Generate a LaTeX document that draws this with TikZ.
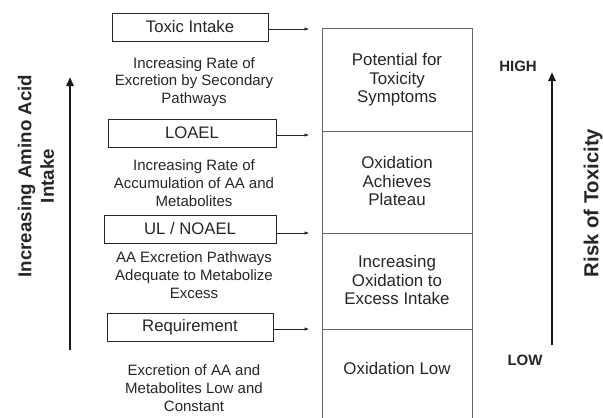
\documentclass[tikz,border=0pt]{standalone}
\usepackage{fontspec}
\setmainfont{Liberation Sans}
\usetikzlibrary{arrows.meta}
\begin{document}
\begin{tikzpicture}[x=1pt,y=-1pt,
  lbox/.style={draw=black!85,line width=0.7pt,minimum height=28pt,inner sep=0pt,font=\fontsize{16.7}{19}\selectfont,text=black!85},
  desc/.style={align=center,inner sep=0pt,font=\fontsize{15}{17.7}\selectfont,text=black!85},
  cell/.style={align=center,inner sep=0pt,font=\fontsize{16.9}{18.5}\selectfont,text=black!85},
  ptr/.style={line width=0.6pt,draw=black!85,-{Latex[length=4.5pt,width=3.5pt]}},
  big/.style={line width=2.2pt,draw=black!90,-{Triangle[length=9pt,width=7pt]}},
  axis/.style={font=\bfseries\fontsize{18.7}{22.5}\selectfont,align=center,text=black!85,inner sep=0pt},
  hl/.style={font=\bfseries\fontsize{15}{17}\selectfont,text=black!85,inner sep=0pt},
  colline/.style={line width=0.7pt,draw=black!60}]
\useasboundingbox (0,0) rectangle (603,418);
% column
\draw[colline] (322,418) -- (322,28) -- (472,28) -- (472,418);
\draw[colline] (322,131) -- (472,131);
\draw[colline] (322,233) -- (472,233);
\draw[colline] (322,329) -- (472,329);
\node[cell] (c1) at (397,80) {Potential for\\Toxicity\\Symptoms};
\node[cell] (c2) at (397,181) {Oxidation\\Achieves\\Plateau};
\node[cell] (c3) at (397,280) {Increasing\\Oxidation to\\Excess Intake};
\node[cell] (c4) at (397,368) {Oxidation Low};
% boxes
\node[lbox,minimum width=156pt] (b1) at (190,27) {Toxic Intake};
\node[lbox,minimum width=168pt] (b2) at (192,133) {LOAEL};
\node[lbox,minimum width=172pt] (b3) at (190,229) {UL / NOAEL};
\node[lbox,minimum width=166pt] (b4) at (190,327) {Requirement};
\coordinate (t1) at (309,29);
\coordinate (t2) at (309,135);
\coordinate (t3) at (309,233);
\coordinate (t4) at (309,329);
\draw[ptr] (b1.east |- t1) -- (t1);
\draw[ptr] (b2.east |- t2) -- (t2);
\draw[ptr] (b3.east |- t3) -- (t3);
\draw[ptr] (b4.east |- t4) -- (t4);
% descriptions
\node[desc] (d1) at (194,82) {Increasing Rate of\\Excretion by Secondary\\Pathways};
\node[desc] (d2) at (194,183) {Increasing Rate of\\Accumulation of AA and\\Metabolites};
\node[desc] (d3) at (194,275) {AA Excretion Pathways\\Adequate to Metabolize\\Excess};
\node[desc] (d4) at (194,388) {Excretion of AA and\\Metabolites Low and\\Constant};
% left axis
\coordinate (la0) at (70,350);
\coordinate (la1) at (70,77);
\draw[big] (la0) -- (la1);
\node[axis,rotate=90] (lt) at (36,176) {Increasing Amino Acid\\Intake};
% right axis
\coordinate (ra0) at (552,345);
\coordinate (ra1) at (552,72);
\draw[big] (ra0) -- (ra1);
\node[axis,rotate=90,font=\bfseries\fontsize{20.3}{22.5}\selectfont] (rt) at (593,203) {Risk of Toxicity};
\node[hl] (hi) at (518,66) {HIGH};
\node[hl] (lo) at (525,360) {LOW};
\end{tikzpicture}
\end{document}
